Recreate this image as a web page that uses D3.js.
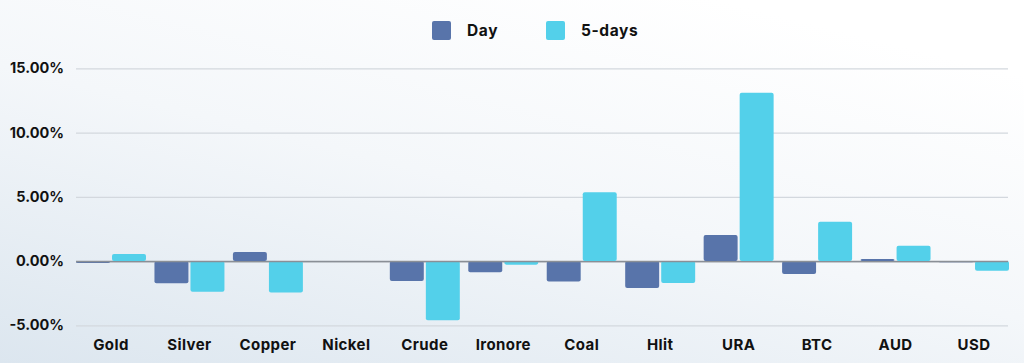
<!DOCTYPE html>
<html lang="en">
<head>
<meta charset="UTF-8" />
<title>Day vs 5-days</title>
<script src="https://d3js.org/d3.v7.min.js"></script>
<style>
    body { margin: 0; font-family: Inter, 'Open Sans', sans-serif; }
    svg { display: block; }
</style>
</head>
<body>
<svg width="1024" height="363"></svg>
<script>

// chart values (percent)
var categories = ["Gold", "Silver", "Copper", "Nickel", "Crude", "Ironore", "Coal", "Hlit", "URA", "BTC", "AUD", "USD"];
var dayValues = [-0.15, -1.73, 0.70, 0, -1.55, -0.88, -1.60, -2.10, 2.02, -1.01, 0.16, -0.10];
var fiveDayValues = [0.55, -2.38, -2.45, 0, -4.60, -0.28, 5.35, -1.71, 13.09, 3.06, 1.19, -0.75];
var seriesNames = ["Day", "5-days"];
var tickValues = [-5, 0, 5, 10, 15];

var colors = {"Day": "#5874aa", "5-days": "#53d0ea"};

var svg = d3.select("svg"),
    width = +svg.attr("width"),
    height = +svg.attr("height");

// soft background wash
var defs = svg.append("defs");
var grad = defs.append("linearGradient")
    .attr("id", "bg")
    .attr("x1", "0%").attr("y1", "100%")
    .attr("x2", "70%").attr("y2", "0%");
grad.append("stop").attr("offset", "0%").attr("stop-color", "#dce6ef");
grad.append("stop").attr("offset", "55%").attr("stop-color", "#f4f7fa");
grad.append("stop").attr("offset", "100%").attr("stop-color", "#ffffff");
svg.append("rect").attr("width", width).attr("height", height).attr("fill", "url(#bg)");

var x0 = d3.scaleBand()
    .domain(categories)
    .range([76, 1009])
    .paddingInner(0.108)
    .paddingOuter(0);

var x1 = d3.scaleBand()
    .domain(seriesNames)
    .range([0, x0.bandwidth()])
    .paddingInner(0.057);

var y = d3.scaleLinear()
    .domain([-5, 15])
    .range([325.3, 68.3]);

// gridlines
svg.append("g")
    .selectAll("line")
    .data(tickValues)
    .enter().append("line")
        .attr("x1", 76)
        .attr("x2", 1008)
        .attr("y1", function(d) { return y(d) + 0.5; })
        .attr("y2", function(d) { return y(d) + 0.5; })
        .attr("stroke", function(d) { return d === 0 ? "#8a8f96" : "#d3d8de"; })
        .attr("stroke-width", function(d) { return d === 0 ? 1.5 : 1.2; });

// y axis labels
var yAxis = svg.append("g")
    .attr("transform", "translate(64,0)")
    .call(d3.axisLeft(y).tickValues(tickValues).tickSize(0).tickPadding(0)
        .tickFormat(function(d) { return d.toFixed(2) + "%"; }));
yAxis.select(".domain").remove();
yAxis.selectAll("text")
    .attr("font-family", "Inter, 'Open Sans', sans-serif")
    .attr("font-size", 14.5)
    .attr("font-weight", 700)
    .attr("fill", "#111");

// bars
var rows = categories.map(function(c, i) {
    return {cat: c, values: [
        {key: "Day", value: dayValues[i]},
        {key: "5-days", value: fiveDayValues[i]}
    ]};
});

svg.append("g")
    .selectAll("g")
    .data(rows)
    .enter().append("g")
        .attr("transform", function(d) { return "translate(" + x0(d.cat) + ",0)"; })
    .selectAll("rect")
    .data(function(d) { return d.values.filter(function(v) { return v.value !== 0; }); })
    .enter().append("rect")
        .attr("x", function(d) { return x1(d.key); })
        .attr("y", function(d) { return y(Math.max(0, d.value)); })
        .attr("width", x1.bandwidth())
        .attr("height", function(d) { return Math.abs(y(d.value) - y(0)); })
        .attr("rx", 2)
        .attr("fill", function(d) { return colors[d.key]; });

// redraw the zero line over the bars
svg.append("line")
    .attr("x1", 76).attr("x2", 1008)
    .attr("y1", y(0) + 0.5).attr("y2", y(0) + 0.5)
    .attr("stroke", "#8a8f96")
    .attr("stroke-width", 1.2);

// x axis labels
var xAxis = svg.append("g")
    .attr("transform", "translate(0,339)")
    .call(d3.axisBottom(x0).tickSize(0).tickPadding(0));
xAxis.select(".domain").remove();
xAxis.selectAll("text")
    .attr("font-family", "Inter, 'Open Sans', sans-serif")
    .attr("font-size", 15)
    .attr("font-weight", 700)
    .attr("letter-spacing", 0.4)
    .attr("fill", "#111");

// legend
var legendX = [432, 546];
var legend = svg.append("g")
    .selectAll("g")
    .data(seriesNames)
    .enter().append("g")
        .attr("transform", function(d, i) { return "translate(" + legendX[i] + ",21)"; });
legend.append("rect")
    .attr("width", 19)
    .attr("height", 19)
    .attr("rx", 2)
    .attr("fill", function(d) { return colors[d]; });
legend.append("text")
    .attr("x", 35)
    .attr("y", 9.5)
    .attr("dy", "0.35em")
    .attr("font-size", 15.5)
    .attr("font-weight", 700)
    .attr("letter-spacing", 0.6)
    .attr("fill", "#111")
    .text(function(d) { return d; });

</script>
</body>
</html>
